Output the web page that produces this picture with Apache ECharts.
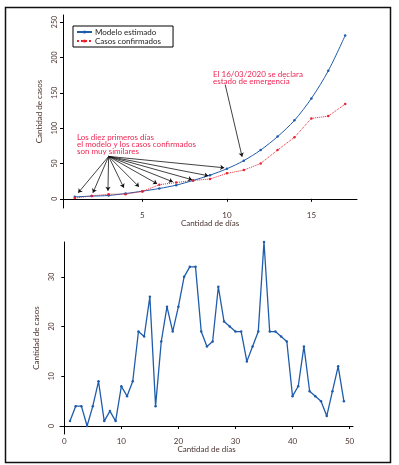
<!DOCTYPE html>
<html lang="es">
<head>
<meta charset="UTF-8">
<title>Casos</title>
<script src="https://cdn.jsdelivr.net/npm/echarts@6/dist/echarts.min.js"></script>
</head>
<body style="margin:0">
<div id="container" style="width:399px;height:465px"></div>
<script>
// grafico superior: modelo vs confirmados
var dias = [1,2,3,4,5,6,7,8,9,10,11,12,13,14,15,16,17];
var modelo = [2.8,3.8,4.7,7.5,10.8,14.6,19.3,26,33.5,42.5,54,69,88,111,142,181,231];
var confirmados = [1,4,6.6,6.6,10.4,20,23,26,28,36,40.6,50,69,87,113.7,117,134];

// flechas de las anotaciones [x0,y0,x1,y1]
var flechasDiez = [
  [3,60,1.2,8.5],[3,60,2.07,8.5],[3,60,2.96,11.3],[3,60,3.9,15.6],[3,60,4.8,17],
  [3,60,5.87,21.2],[3,60,6.8,24],[3,60,7.94,27],[3,60,8.9,32.6],[3,60,9.84,43.9]
];
var flechaEmergencia = [[9.9,161.5,10.9,59.5]];

// grafico inferior: casos diarios
var casosDiarios = [1,4,4,0,4,9,1,3,1,8,6,9,19,18,26,4,17,24,19,24,30,32,32,19,16,17,28,21,20,19,19,13,16,19,37,19,19,18,17,6,8,16,7,6,5,2,7,12,5];

var ticksY1 = [0,50,100,150,200,250];
var ticksX1 = [5,10,15];
var ticksY2 = [0,10,20,30];
var ticksX2 = [0,10,20,30,40,50];

var azul = '#1f5cab';
var rojo = '#e8202f';
var txtRojo = '#ee2653';
var txtEje = '#4a3430';
var fuente = 'Lato';

var pares = function (xs, ys) {
  return xs.map(function (x, i) { return [x, ys[i]]; });
};

var flechas = function (lista) {
  return lista.map(function (f) {
    return [{coord: [f[0], f[1]]}, {coord: [f[2], f[3]]}];
  });
};

var ejeX = function (idx, min, max, ticks) {
  return {
    type: 'value', gridIndex: idx, min: min, max: max,
    name: 'Cantidad de días', nameLocation: 'middle', nameGap: 11,
    nameTextStyle: {color: txtEje, fontSize: 8, fontFamily: fuente},
    splitLine: {show: false},
    axisLine: {lineStyle: {color: '#000', width: 1}},
    axisTick: {length: 3, lineStyle: {color: '#000'}, customValues: ticks},
    axisLabel: {color: txtEje, fontSize: 8, fontFamily: fuente, margin: 3, customValues: ticks}
  };
};

var ejeY = function (idx, min, max, ticks, gap) {
  return {
    type: 'value', gridIndex: idx, min: min, max: max,
    name: 'Cantidad de casos', nameLocation: 'middle', nameGap: gap,
    nameTextStyle: {color: txtEje, fontSize: 8, fontFamily: fuente},
    splitLine: {show: false},
    axisLine: {show: true, lineStyle: {color: '#000', width: 1}},
    axisTick: {show: true, length: 3, lineStyle: {color: '#000'}, customValues: ticks},
    axisLabel: {color: txtEje, fontSize: 7, fontFamily: fuente, rotate: 90, margin: 5, customValues: ticks}
  };
};

var chart = echarts.init(document.getElementById('container'));
var option = {
  backgroundColor: '#fff',
  animation: false,
  grid: [
    {left: 63, top: 15, right: 42, bottom: 257},
    {left: 60, top: 242, right: 46, bottom: 31}
  ],
  xAxis: [ejeX(0, 0.3, 17.7, ticksX1), ejeX(1, -0.75, 50.6, ticksX2)],
  yAxis: [ejeY(0, -13, 260, ticksY1, 14), ejeY(1, -1.6, 37, ticksY2, 14)],
  legend: {
    left: 73, top: 26, orient: 'vertical',
    data: ['Modelo estimado', 'Casos confirmados'],
    itemWidth: 15, itemHeight: 4, itemGap: 1,
    padding: [2, 12, 2, 3],
    borderColor: '#000', borderWidth: 1,
    textStyle: {color: '#222', fontSize: 8, fontFamily: fuente, padding: [0, 0, 0, -2]}
  },
  series: [
    {
      name: 'Modelo estimado', type: 'line', xAxisIndex: 0, yAxisIndex: 0,
      data: pares(dias, modelo), smooth: 0.3,
      symbol: 'circle', symbolSize: 2.5,
      lineStyle: {color: azul, width: 1}, itemStyle: {color: azul},
      markLine: {
        silent: true, symbol: ['none', 'arrow'], symbolSize: 4,
        label: {show: false},
        lineStyle: {color: '#111', width: 0.8, type: 'solid'},
        data: flechas(flechasDiez.concat(flechaEmergencia))
      }
    },
    {
      name: 'Casos confirmados', type: 'line', xAxisIndex: 0, yAxisIndex: 0,
      data: pares(dias, confirmados),
      symbol: 'circle', symbolSize: 2.5,
      lineStyle: {color: rojo, width: 1, type: 'dotted'}, itemStyle: {color: rojo}
    },
    {
      name: 'Diarios', type: 'line', xAxisIndex: 1, yAxisIndex: 1,
      data: pares(casosDiarios.map(function (v, i) { return i + 1; }), casosDiarios),
      symbol: 'circle', symbolSize: 2.5,
      lineStyle: {color: azul, width: 1.3}, itemStyle: {color: azul}
    }
  ],
  graphic: [
    {type: 'rect', left: 3, top: 5, shape: {width: 385, height: 455}, style: {fill: 'none', stroke: '#111', lineWidth: 1.5}, silent: true},
    {type: 'text', left: 77, top: 133, style: {text: 'Los diez primeros días\nel modelo y los casos confirmados\nson muy similares', fill: txtRojo, font: '8px Lato', lineHeight: 7}},
    {type: 'text', left: 213, top: 70, style: {text: 'El 16/03/2020 se declara\nestado de emergencia', fill: txtRojo, font: '8px Lato', lineHeight: 7}}
  ]
};
chart.setOption(option);
</script>
</body>
</html>
